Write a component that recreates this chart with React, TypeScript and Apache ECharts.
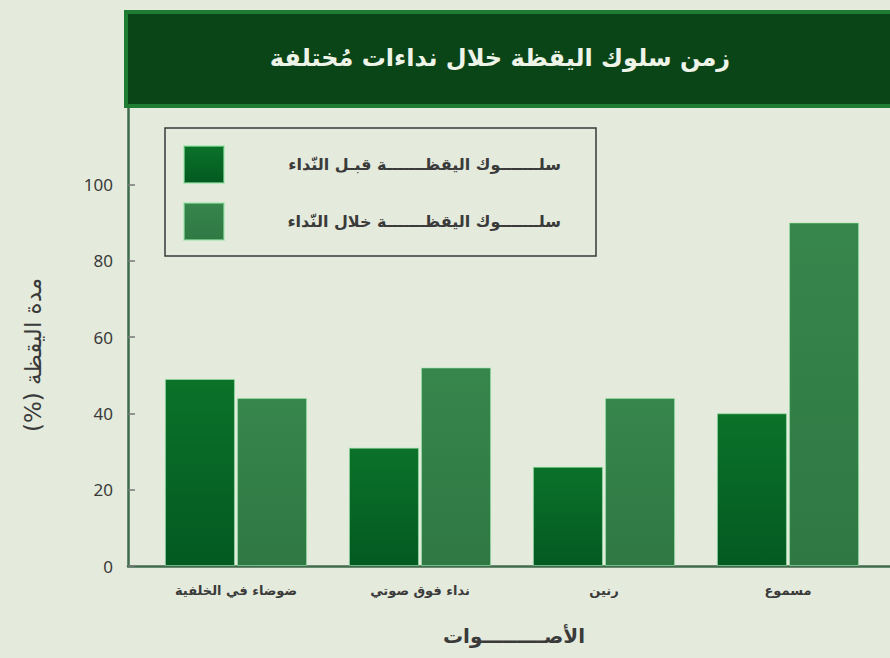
import React, { useEffect, useRef } from "react";
import * as echarts from "echarts";

const categories = ["ضوضاء في الخلفية", "نداء فوق صوتي", "رنين", "مسموع"];
const beforeCall = [49, 31, 26, 40];
const duringCall = [44, 52, 44, 90];
const seriesNames = [
  "سلـــــــوك اليقظـــــــة قبـل النّداء",
  "سلـــــــوك اليقظـــــــة خلال النّداء",
];
const yTicks = [0, 20, 40, 60, 80, 100];
const titleText = "زمن سلوك اليقظة خلال نداءات مُختلفة";
const xTitle = "الأصـــــــــوات";
const yTitle = "مدة اليقظة (%)\u200F";

const AR_FONT = "'DejaVu Sans', 'Noto Sans', sans-serif";
const NUM_FONT = "'Noto Sans', 'Open Sans', sans-serif";

export default function App() {
  const ref = useRef<HTMLDivElement>(null);
  useEffect(() => {
    const chart = echarts.init(ref.current!, null, { renderer: "svg" });
    const darkFill = new echarts.graphic.LinearGradient(0, 0, 0, 1, [
      { offset: 0, color: "#0b7229" },
      { offset: 1, color: "#035a22" },
    ]);
    const lightFill = new echarts.graphic.LinearGradient(0, 0, 0, 1, [
      { offset: 0, color: "#37864c" },
      { offset: 1, color: "#2f7844" },
    ]);
    const axisColor = "#3f6b4c";
    const option: any = {
      animation: false,
      backgroundColor: "#e4eadc",
      grid: [
        { left: 144, right: 10, top: 108, bottom: 92 },
        { left: 128, right: 0, top: 108, bottom: 92 },
      ],
      xAxis: [
        {
          gridIndex: 0,
          type: "category",
          data: categories,
          axisLine: { show: false },
          axisTick: { show: false },
          axisLabel: {
            interval: 0,
            margin: 18,
            fontSize: 13,
            fontWeight: "bold",
            color: "#3a3a3a",
            fontFamily: AR_FONT,
          },
        },
        {
          gridIndex: 1,
          type: "value",
          min: 0,
          max: 1,
          axisLine: { show: true, lineStyle: { color: axisColor, width: 2.5 } },
          axisTick: { show: false },
          axisLabel: { show: false },
          splitLine: { show: false },
        },
      ],
      yAxis: [
        { gridIndex: 0, type: "value", min: 0, max: 120, show: false },
        {
          gridIndex: 1,
          type: "value",
          min: 0,
          max: 120,
          interval: 20,
          axisLine: { show: true, lineStyle: { color: axisColor, width: 2.5 } },
          axisTick: {
            show: true,
            inside: true,
            length: 7,
            customValues: yTicks,
            lineStyle: { color: "#777", width: 1.5 },
          },
          axisLabel: {
            customValues: yTicks,
            formatter: (v: number) => (v > 100 ? "" : String(v)),
            margin: 15,
            fontSize: 17,
            color: "#3a3a3a",
            fontFamily: NUM_FONT,
          },
          splitLine: { show: false },
        },
      ],
      legend: {
        orient: "vertical",
        left: 165,
        top: 128,
        padding: [17, 35, 15, 18],
        itemWidth: 40,
        itemHeight: 37,
        itemGap: 18,
        borderColor: "#3a3a3a",
        borderWidth: 1.5,
        borderRadius: 0,
        icon: "rect",
        data: seriesNames,
        formatter: (name: string) => "{a|" + name + "}",
        textStyle: {
          rich: {
            a: {
              width: 332,
              align: "right",
              fontSize: 16,
              fontWeight: "bold",
              color: "#3a3a3a",
              fontFamily: AR_FONT,
            },
          },
        },
      },
      series: [
        {
          name: seriesNames[0],
          type: "bar",
          xAxisIndex: 0,
          yAxisIndex: 0,
          data: beforeCall,
          barWidth: 70,
          barGap: "3%",
          itemStyle: {
            color: darkFill,
            borderColor: "rgba(150,230,165,0.6)",
            borderWidth: 1,
          },
        },
        {
          name: seriesNames[1],
          type: "bar",
          xAxisIndex: 0,
          yAxisIndex: 0,
          data: duringCall,
          barWidth: 70,
          barGap: "3%",
          itemStyle: {
            color: lightFill,
            borderColor: "rgba(150,230,165,0.6)",
            borderWidth: 1,
          },
        },
      ],
      graphic: [
        {
          type: "rect",
          z: 10,
          shape: { x: 126, y: 12, width: 780, height: 94 },
          style: {
            fill: "#0a4518",
            stroke: "#1f7d33",
            lineWidth: 4,
          },
        },
        {
          type: "text",
          z: 11,
          x: 500,
          y: 58,
          style: {
            text: titleText,
            fill: "#eef4e8",
            fontSize: 24,
            fontWeight: "bold",
            fontFamily: AR_FONT,
            align: "center",
            verticalAlign: "middle",
          },
        },
        {
          type: "text",
          x: 33,
          y: 355,
          rotation: Math.PI / 2,
          style: {
            text: yTitle,
            fill: "#3a3a3a",
            fontSize: 23,
            fontFamily: AR_FONT,
            align: "center",
            verticalAlign: "middle",
          },
        },
        {
          type: "text",
          x: 514,
          y: 636,
          style: {
            text: xTitle,
            fill: "#3a3a3a",
            fontSize: 20,
            fontWeight: "bold",
            fontFamily: AR_FONT,
            align: "center",
            verticalAlign: "middle",
          },
        },
      ],
    };
    chart.setOption(option);
    return () => chart.dispose();
  }, []);
  return (
    <div
      ref={ref}
      style={{ position: "fixed", left: 0, top: 0, width: 890, height: 658 }}
    />
  );
}
